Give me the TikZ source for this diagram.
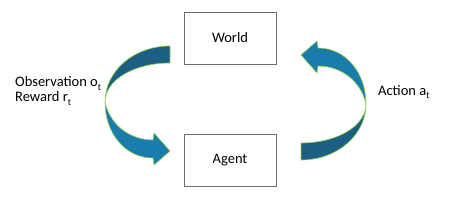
\documentclass[tikz,border=0pt]{standalone}
\usepackage{fontspec}
\setmainfont{Carlito}
\definecolor{ribbondark}{HTML}{1D5F83}
\definecolor{ribbonlight}{HTML}{1A7CAB}
\definecolor{ribbonrim}{HTML}{92D050}
\definecolor{boxgray}{HTML}{6E6E6E}
\newcommand{\lowidx}[1]{\raisebox{-3.5pt}{\fontsize{9.5}{9.5}\selectfont #1}}
\tikzset{
  box/.style={draw=boxgray, line width=0.8pt, minimum width=92pt, minimum height=52pt, inner sep=0pt},
  label/.style={anchor=west, align=left, inner sep=0pt},
  ribbon/.style={draw=ribbonrim, line width=0.6pt, line join=round}
}
% one curved ribbon arrow, tail at top right, head at bottom right
\newcommand{\loopribbon}{%
  \filldraw[ribbon, fill=ribbondark] (170,46) .. controls (134,46) and (105,71) .. (105,102)
    .. controls (105,80) and (134,63) .. (170,63) -- cycle;
  \filldraw[ribbon, fill=ribbonlight] (105,102) .. controls (105,133) and (125,158) .. (153,158)
    -- (154,165) -- (170,151) -- (154,133) -- (153,140)
    .. controls (130,140) and (110,125) .. (105,102) -- cycle;
}
\begin{document}
\begin{tikzpicture}[x=1pt, y=-1pt, font=\fontsize{14.5}{15}\selectfont]
  \useasboundingbox (0,0) rectangle (453,207);
  % boxes
  \node[box] (world) at (230,38) {World};
  \node[box] (agent) at (230,160.5) {Agent};
  % ribbons
  \loopribbon
  \begin{scope}[rotate around={180:(235.5,103)}]
    \loopribbon
  \end{scope}
  % labels
  \node[label] (obs) at (15,91) {Observation o\lowidx{t}\\Reward r\lowidx{t}};
  \node[label] (act) at (378,92) {Action a\lowidx{t}};
\end{tikzpicture}
\end{document}
